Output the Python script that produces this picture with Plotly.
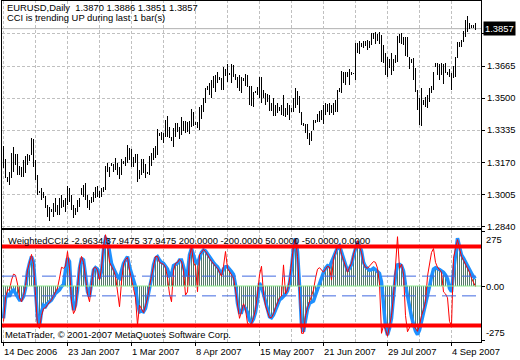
import plotly.graph_objects as go

W, H = 520, 360

# ---------------- data ----------------
date_labels = ["14 Dec 2006", "23 Jan 2007", "1 Mar 2007", "8 Apr 2007",
               "15 May 2007", "21 Jun 2007", "29 Jul 2007", "4 Sep 2007"]
date_bar_index = [0, 32, 64, 96, 128, 160, 192, 224]
grid_bar_index = [16, 48, 80, 112, 144, 176, 208]

high = [
1.3255, 1.3188, 1.3096, 1.3122, 1.3219, 1.3250, 1.3214, 1.3214, 1.3153, 1.3147,
1.3183, 1.3204, 1.3214, 1.3209, 1.3296, 1.3291, 1.3183, 1.3106, 1.3019, 1.3040,
1.3019, 1.2999, 1.2948, 1.2942, 1.2932, 1.2963, 1.2989, 1.2953, 1.2989, 1.3004,
1.2978, 1.2989, 1.3050, 1.3040, 1.3004, 1.2953, 1.2937, 1.2978, 1.2989, 1.3040,
1.3055, 1.3065, 1.3004, 1.2978, 1.2994, 1.3019, 1.3045, 1.3050, 1.3024, 1.3040,
1.3045, 1.3153, 1.3168, 1.3147, 1.3168, 1.3163, 1.3194, 1.3168, 1.3147, 1.3188,
1.3178, 1.3199, 1.3260, 1.3245, 1.3240, 1.3199, 1.3214, 1.3214, 1.3132, 1.3188,
1.3188, 1.3163, 1.3122, 1.3204, 1.3219, 1.3245, 1.3255, 1.3342, 1.3322, 1.3327,
1.3322, 1.3388, 1.3409, 1.3352, 1.3301, 1.3347, 1.3373, 1.3373, 1.3352, 1.3404,
1.3383, 1.3383, 1.3378, 1.3383, 1.3445, 1.3429, 1.3378, 1.3378, 1.3455, 1.3465,
1.3501, 1.3552, 1.3563, 1.3578, 1.3593, 1.3614, 1.3619, 1.3634, 1.3609, 1.3604,
1.3660, 1.3650, 1.3675, 1.3629, 1.3675, 1.3670, 1.3624, 1.3609, 1.3619, 1.3609,
1.3604, 1.3624, 1.3619, 1.3563, 1.3563, 1.3532, 1.3537, 1.3557, 1.3609, 1.3609,
1.3542, 1.3527, 1.3522, 1.3516, 1.3475, 1.3501, 1.3465, 1.3475, 1.3455, 1.3465,
1.3516, 1.3450, 1.3475, 1.3465, 1.3450, 1.3501, 1.3552, 1.3537, 1.3511, 1.3429,
1.3373, 1.3368, 1.3368, 1.3322, 1.3332, 1.3388, 1.3388, 1.3419, 1.3434, 1.3440,
1.3465, 1.3475, 1.3470, 1.3475, 1.3465, 1.3475, 1.3491, 1.3542, 1.3552, 1.3639,
1.3634, 1.3634, 1.3634, 1.3650, 1.3634, 1.3629, 1.3783, 1.3783, 1.3793, 1.3783,
1.3793, 1.3793, 1.3798, 1.3793, 1.3834, 1.3834, 1.3839, 1.3829, 1.3839, 1.3824,
1.3773, 1.3732, 1.3711, 1.3701, 1.3732, 1.3701, 1.3721, 1.3819, 1.3829, 1.3834,
1.3814, 1.3814, 1.3814, 1.3711, 1.3701, 1.3706, 1.3655, 1.3542, 1.3501, 1.3552,
1.3491, 1.3506, 1.3516, 1.3552, 1.3563, 1.3634, 1.3680, 1.3680, 1.3675, 1.3680,
1.3675, 1.3680, 1.3634, 1.3650, 1.3629, 1.3665, 1.3711, 1.3788, 1.3788, 1.3798,
1.3844, 1.3901, 1.3921, 1.3885, 1.3875, 1.3875, 1.3886]

low = [
1.3142, 1.3091, 1.3071, 1.3055, 1.3091, 1.3122, 1.3158, 1.3106, 1.3106, 1.3096,
1.3096, 1.3117, 1.3158, 1.3178, 1.3209, 1.3147, 1.3081, 1.3004, 1.3014, 1.2978,
1.2989, 1.2937, 1.2891, 1.2866, 1.2917, 1.2891, 1.2912, 1.2901, 1.2901, 1.2937,
1.2942, 1.2917, 1.2953, 1.2968, 1.2927, 1.2886, 1.2901, 1.2917, 1.2942, 1.3004,
1.2994, 1.2978, 1.2937, 1.2927, 1.2963, 1.2968, 1.2989, 1.2994, 1.2989, 1.2994,
1.3019, 1.3030, 1.3122, 1.3096, 1.3153, 1.3122, 1.3132, 1.3106, 1.3086, 1.3106,
1.3163, 1.3153, 1.3168, 1.3183, 1.3147, 1.3147, 1.3168, 1.3071, 1.3086, 1.3106,
1.3117, 1.3091, 1.3112, 1.3106, 1.3153, 1.3183, 1.3194, 1.3209, 1.3306, 1.3286,
1.3270, 1.3301, 1.3301, 1.3296, 1.3281, 1.3250, 1.3301, 1.3327, 1.3291, 1.3311,
1.3332, 1.3322, 1.3327, 1.3317, 1.3352, 1.3358, 1.3363, 1.3347, 1.3337, 1.3393,
1.3429, 1.3475, 1.3542, 1.3516, 1.3501, 1.3552, 1.3532, 1.3578, 1.3593, 1.3542,
1.3542, 1.3614, 1.3583, 1.3619, 1.3578, 1.3609, 1.3593, 1.3552, 1.3537, 1.3527,
1.3588, 1.3563, 1.3557, 1.3465, 1.3460, 1.3455, 1.3527, 1.3516, 1.3501, 1.3475,
1.3501, 1.3465, 1.3481, 1.3434, 1.3434, 1.3409, 1.3409, 1.3424, 1.3434, 1.3414,
1.3409, 1.3404, 1.3414, 1.3388, 1.3429, 1.3429, 1.3450, 1.3465, 1.3424, 1.3363,
1.3358, 1.3322, 1.3291, 1.3260, 1.3281, 1.3337, 1.3373, 1.3378, 1.3378, 1.3388,
1.3368, 1.3414, 1.3429, 1.3414, 1.3424, 1.3414, 1.3429, 1.3429, 1.3532, 1.3527,
1.3578, 1.3568, 1.3609, 1.3568, 1.3619, 1.3624, 1.3593, 1.3732, 1.3727, 1.3762,
1.3757, 1.3768, 1.3747, 1.3757, 1.3773, 1.3803, 1.3778, 1.3793, 1.3778, 1.3686,
1.3680, 1.3619, 1.3609, 1.3655, 1.3619, 1.3639, 1.3680, 1.3686, 1.3783, 1.3778,
1.3773, 1.3716, 1.3711, 1.3650, 1.3680, 1.3593, 1.3532, 1.3440, 1.3363, 1.3358,
1.3465, 1.3455, 1.3450, 1.3481, 1.3527, 1.3542, 1.3660, 1.3619, 1.3593, 1.3619,
1.3573, 1.3629, 1.3619, 1.3609, 1.3542, 1.3604, 1.3609, 1.3706, 1.3762, 1.3762,
1.3788, 1.3814, 1.3839, 1.3855, 1.3865, 1.3865, 1.3851]

last_ohlc = [1.3870, 1.3886, 1.3851, 1.3857]

weighted_cci = [
-164, -63, -37, -54, -29, -20, -37, -54, -71, -71,
-54, -12, 73, 115, 149, 124, -12, -164, -207, -131,
-97, -105, -88, -80, -71, -54, -37, -29, -20, -3,
8, 81, 141, 124, -46, -122, -97, -20, 90, 141,
132, 56, -29, -54, 14, 81, 93, 86, 39, 73,
183, 242, 234, 158, 115, 90, 64, 47, 39, 81,
115, 132, 149, 98, 64, 31, -3, -88, -131, -127,
-131, -114, -71, -12, 39, 107, 141, 149, 132, 120,
115, 103, 86, 53, 59, 103, 110, 115, 132, 132,
98, 56, 64, 158, 192, 149, 124, 115, 149, 171,
183, 178, 164, 147, 132, 119, 107, 97, 78, 59,
86, 97, 97, 81, 73, 59, 5, -88, -134, -134,
-100, -114, -134, -173, -185, -168, -134, -71, 14, -3,
-46, -83, -122, -156, -161, -147, -122, -93, -71, -63,
-54, -42, -25, 14, 90, 192, 242, 175, 5, -198,
-232, -164, -117, -88, -80, -76, -46, -15, 19, 42,
69, 90, 103, 97, 124, 141, 166, 195, 205, 171,
137, 103, 76, 90, 110, 154, 192, 225, 205, 178,
120, 98, 90, 80, 83, 90, 83, 73, 64, 22,
-80, -207, -249, -215, -164, -63, 56, 107, 110, 103,
76, 5, -54, -114, -156, -195, -229, -246, -224, -181,
-139, -97, -63, -3, 47, 86, 93, 90, 83, 76,
69, 56, 36, -12, -29, 73, 175, 242, 200, 158,
141, 120, 107, 86, 64, 47, 37.9475]

raw_cci = [
-180, -60, -20, -20, 30, 60, 55, 10, -60, -80,
-50, 0, 80, 120, 160, 110, -40, -200, -215, -150,
-115, -110, -95, -85, -70, -50, -30, -10, 40, 95,
90, 100, 175, 90, -80, -140, -120, -10, 100, 150,
120, 40, -40, -80, 10, 90, 95, 80, 30, 90,
200, 260, 210, 120, 100, 80, 50, -20, -105, 20,
110, 135, 145, 80, 40, -12, -60, -198, -97, -120,
-135, -100, -60, 0, 50, 115, 150, 150, 120, 115,
110, 95, 40, -40, -80, 80, 115, 120, 135, 125,
80, -46, -30, 150, 200, 120, 100, -29, 158, 170,
185, 175, 155, 140, 125, 110, 100, 90, 70, 50,
100, 175, 90, 75, 60, 40, -20, -100, -164, -130,
-90, -120, -190, -195, -190, -160, -120, -40, 56, 100,
-40, -100, -130, -160, -160, -140, -110, -80, -60, -50,
107, -40, -20, 30, 110, 200, 240, 150, -30, -240,
-240, -150, -110, -80, -60, -20, 40, 85, 93, 80,
70, 85, 100, 95, 30, 140, 170, 200, 210, 160,
130, 95, 70, 95, 115, 160, 200, 230, 200, 170,
115, 95, 90, 100, 115, 124, 120, 90, 10, -240,
-200, -220, -255, -205, -150, -50, 100, 250, 90, 110,
60, -150, -232, -210, -190, -200, -215, -230, -200, -150,
-120, -80, 50, 120, 170, 190, 120, 95, 80, 70,
-30, -40, -60, -180, -200, 141, 190, 235, 190, 150,
130, 110, 95, 70, 40, 20, -2.9634]

level_hi, level_lo = 200, -200
level_mid_hi, level_mid_lo = 50, -50
level_zero = 0

price_ticks = [1.2840, 1.3005, 1.3170, 1.3335, 1.3500, 1.3665, 1.3830]
price_tick_text = ["1.2840", "1.3005", "1.3170", "1.3335", "1.3500", "1.3665", ""]  # 1.3830 hidden behind last-price box
ind_ticks = [275, 0, -275]
ind_tick_text = ["275", "0.00", "-275"]

n = len(high)
assert len(low) == n and len(weighted_cci) == n and len(raw_cci) == n
idx = list(range(n))

# ---------------- figure ----------------
FONT = "Liberation Sans"
FS = 9.4
GRID = "#C0C0C0"
GDASH = "3px,2px"

fig = go.Figure()

fig.add_trace(go.Bar(x=idx, y=[h - l for h, l in zip(high, low)], base=low,
                     width=0.5, marker=dict(color="black", line=dict(width=0)),
                     xaxis="x", yaxis="y", hoverinfo="skip"))
fig.add_trace(go.Bar(x=idx, y=weighted_cci, width=0.5,
                     marker=dict(color="#55796A", line=dict(width=0)),
                     xaxis="x2", yaxis="y2", hoverinfo="skip"))
fig.add_trace(go.Scatter(x=idx, y=weighted_cci, mode="lines",
                         line=dict(color="#1E90FF", width=3.5),
                         xaxis="x2", yaxis="y2", hoverinfo="skip"))
fig.add_trace(go.Scatter(x=idx, y=raw_cci, mode="lines",
                         line=dict(color="#FF0000", width=1),
                         xaxis="x2", yaxis="y2", hoverinfo="skip"))

xr = [-0.75, 238.75]
xdom = [2 / W, 481 / W]

shapes = []
for g in grid_bar_index:
    for xa, ya in (("x", "y domain"), ("x2", "y2 domain")):
        shapes.append(dict(type="line", xref=xa, yref=ya, x0=g, x1=g, y0=0, y1=1,
                           line=dict(color=GRID, width=1, dash=GDASH), layer="below"))
for v, col, wd, dash in [(level_mid_hi, "#4169E1", 1, "14px,6px"),
                         (level_mid_lo, "#4169E1", 1, "14px,6px"),
                         (level_zero, "#90EE90", 1, "solid"),
                         (level_hi, "#FF0000", 4, "solid"),
                         (level_lo, "#FF0000", 4, "solid")]:
    shapes.append(dict(type="line", xref="x2 domain", yref="y2", x0=0, x1=1,
                       y0=v, y1=v, line=dict(color=col, width=wd, dash=dash),
                       layer="above"))
shapes.append(dict(type="line", xref="x domain", yref="y", x0=0, x1=1,
                   y0=last_ohlc[3], y1=last_ohlc[3],
                   line=dict(color="#B0B0B0", width=1), layer="below"))

annotations = []
txt = dict(family=FONT, size=FS, color="black")
annotations.append(dict(xref="paper", yref="paper", x=5 / W, y=1 - 7.5 / H,
                        xanchor="left", yanchor="middle", showarrow=False,
                        text="EURUSD,Daily\u00a0\u00a0" + " ".join(f"{v:.4f}" for v in last_ohlc),
                        font=txt))
annotations.append(dict(xref="paper", yref="paper", x=5 / W, y=1 - 17.5 / H,
                        xanchor="left", yanchor="middle", showarrow=False,
                        text="CCI is trending UP during last 1 bar(s)", font=txt))
annotations.append(dict(xref="paper", yref="paper", x=6 / W, y=1 - 240.5 / H,
                        xanchor="left", yanchor="middle", showarrow=False,
                        text="WeightedCCI2 " + " ".join(f"{v:.4f}" for v in
                             [raw_cci[-1], weighted_cci[-1], weighted_cci[-1],
                              level_hi, level_lo, level_mid_hi, level_mid_lo, level_zero]),
                        font=txt))
annotations.append(dict(xref="paper", yref="paper", x=3 / W, y=1 - 334.5 / H,
                        xanchor="left", yanchor="middle", showarrow=False,
                        text="MetaTrader, © 2001-2007 MetaQuotes Software Corp.",
                        font=txt))
for v, t, ya in zip(ind_ticks, ind_tick_text, ["top", "middle", "bottom"]):
    annotations.append(dict(xref="paper", yref="y2", x=484 / W, y=v,
                            xanchor="left", yanchor=ya, showarrow=False,
                            text=t, font=txt))
for p, t in zip(date_bar_index, date_labels):
    annotations.append(dict(xref="x2", yref="paper", x=p, y=1 - 351.5 / H,
                            xanchor="left", yanchor="middle", showarrow=False,
                            xshift=-2, text=t, font=txt))
annotations.append(dict(xref="paper", yref="y", x=483 / W, y=last_ohlc[3],
                        xanchor="left", yanchor="middle", showarrow=False,
                        text=f"{last_ohlc[3]:.4f}", bgcolor="black",
                        borderpad=1, font=dict(family=FONT, size=FS, color="white")))

axis_common = dict(showline=True, linecolor="black", linewidth=1, mirror=True,
                   zeroline=False, fixedrange=True, automargin=False)

fig.update_layout(
    width=W, height=H, margin=dict(l=0, r=0, t=0, b=0, pad=0, autoexpand=False),
    paper_bgcolor="white", plot_bgcolor="white", showlegend=False,
    barmode="overlay", bargap=0,
    font=dict(family=FONT, size=FS, color="black"),
    xaxis=dict(domain=xdom, anchor="y", range=xr, tickvals=date_bar_index,
               showticklabels=False, ticks="", showgrid=True, gridcolor=GRID,
               griddash=GDASH, **axis_common),
    yaxis=dict(domain=[(H - 228) / H, (H - 1) / H], anchor="x",
               range=[1.28323, 1.39991], side="right", tickvals=price_ticks,
               ticktext=price_tick_text, ticks="outside",
               ticklen=3, tickcolor="black", showgrid=True, gridcolor=GRID,
               griddash=GDASH, **axis_common),
    xaxis2=dict(domain=xdom, anchor="y2", range=xr, tickvals=date_bar_index,
                showticklabels=False, ticks="outside", ticklen=3,
                tickcolor="black", showgrid=True, gridcolor=GRID,
                griddash=GDASH, **axis_common),
    yaxis2=dict(domain=[(H - 342) / H, (H - 230) / H], anchor="x2",
                range=[-284, 284], side="right", tickvals=ind_ticks,
                showticklabels=False, ticks="outside", ticklen=3,
                tickcolor="black", showgrid=False, **axis_common),
    shapes=shapes, annotations=annotations,
)

fig.write_html("out.html", config={"displayModeBar": False},
               post_script="document.body.style.margin='0px';document.body.style.padding='0px';document.body.style.overflow='hidden';")
